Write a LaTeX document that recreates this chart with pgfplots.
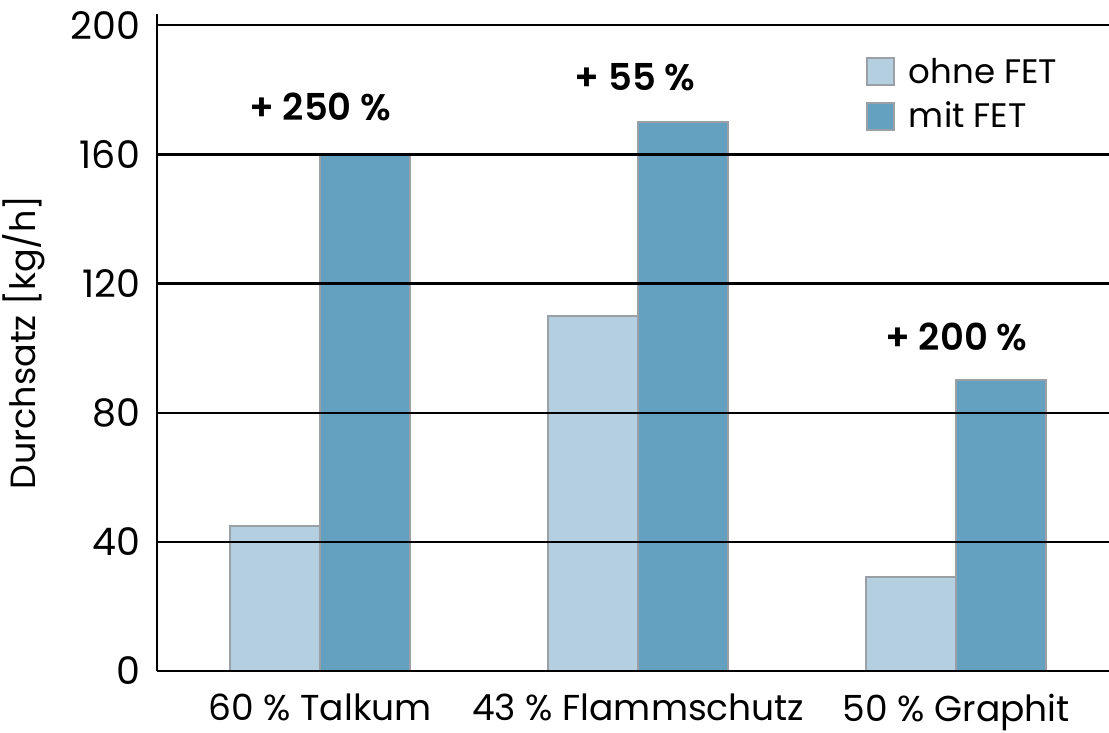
\documentclass[border=0pt]{standalone}
\usepackage{fontspec}
\setmainfont{Poppins}[BoldFont={Poppins SemiBold}]
\usepackage{pgfplots}
\pgfplotsset{compat=1.18}
\definecolor{lightbar}{HTML}{B4CFE0}
\definecolor{darkbar}{HTML}{64A0C0}
\definecolor{barborder}{HTML}{9AA0A6}
\begin{document}
\begin{tikzpicture}
\begin{axis}[
  scale only axis,
  width=476pt, height=328.5pt,
  xmin=-0.513, xmax=2.48,
  ymin=0, ymax=203.5,
  axis x line=bottom, axis y line=left,
  axis line style={-, line width=1.2pt, black},
  xtick={0,1,2},
  xticklabels={60 \% Talkum, 43 \% Flammschutz, 50 \% Graphit},
  ytick={0,40,80,120,160,200},
  major tick length=0pt,
  ymajorgrids, grid style={line width=1.2pt, black},
  axis on top,
  /pgf/number format/assume math mode=true,
  tick label style={font=\fontsize{18}{20}\selectfont},
  yticklabel style={font=\fontsize{19}{21}\selectfont, xshift=-5pt},
  xticklabel style={yshift=-8pt},
  ylabel={Durchsatz [kg/h]},
  ylabel style={font=\fontsize{17.5}{20}\selectfont, yshift=6pt},
  bar width=0.283,
  legend style={draw=none, fill=none, at={(0.738,0.946)}, anchor=north west,
    font=\fontsize{17}{20}\selectfont, row sep=4pt},
  legend cell align=left,
  legend image code/.code={\draw[#1] (0pt,-6.75pt) rectangle (13.5pt,6.75pt);
    \path (18.5pt,0pt);},
]
\addplot[ybar, bar shift=-0.1415, fill=lightbar, draw=barborder, line width=1pt]
  coordinates {(0,45) (1,110) (2,29)};
\addlegendentry{ohne FET}
\addplot[ybar, bar shift=0.1415, fill=darkbar, draw=barborder, line width=1pt]
  coordinates {(0,160) (1,170) (2,90)};
\addlegendentry{mit FET}
\node[font=\bfseries\fontsize{18.5}{20}\selectfont] at (axis cs:0,174.6) {+ 250 \%};
\node[font=\bfseries\fontsize{18.5}{20}\selectfont] at (axis cs:0.99,184) {+ 55 \%};
\node[font=\bfseries\fontsize{18.5}{20}\selectfont] at (axis cs:2,103.4) {+ 200 \%};
\end{axis}
\pgfresetboundingbox
\useasboundingbox (-78.5pt,-31pt) rectangle (476pt,335.5pt);
\end{tikzpicture}
\end{document}
